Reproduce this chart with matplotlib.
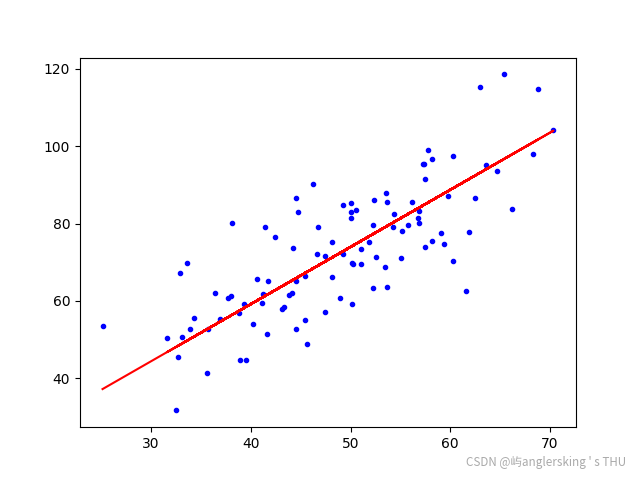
import matplotlib
matplotlib.use("Agg")
import matplotlib.pyplot as plt
import numpy as np

x = [32.502345, 53.426804, 61.530358, 47.475640, 59.813208, 55.142188, 52.211797, 39.299567, 48.105042, 52.550014,
     45.419730, 54.351635, 44.164049, 58.168471, 56.727208, 48.955889, 44.687196, 60.297327, 45.618644, 38.816818,
     66.189817, 65.416052, 47.481209, 41.575643, 51.845187, 59.370822, 57.310003, 63.615561, 46.737619, 50.556760,
     52.223996, 35.567830, 42.436477, 58.164540, 57.504448, 45.440531, 61.896223, 33.093832, 36.436010, 37.675655,
     44.555608, 43.318283, 50.073146, 43.870613, 62.997481, 32.669044, 40.166899, 53.575078, 33.864215, 64.707139,
     38.119824, 44.502538, 40.599538, 41.720676, 51.088635, 55.078096, 41.377727, 62.494697, 49.203888, 41.102685,
     41.182016, 50.186389, 52.378446, 50.135485, 33.644706, 39.557901, 56.130389, 57.362052, 60.269214, 35.678094,
     31.588117, 53.660932, 46.682229, 43.107820, 70.346076, 44.492856, 57.504533, 36.930077, 55.805733, 38.954769,
     56.901215, 56.868901, 34.333125, 59.049741, 57.788224, 54.282329, 51.088720, 50.282836, 44.211742, 38.005488,
     32.940480, 53.691640, 68.765734, 46.230966, 68.319361, 50.030174, 49.239765, 50.039576, 48.149859, 25.128485]
y = [31.707006, 68.777596, 62.562382, 71.546632, 87.230925, 78.211518, 79.641973, 59.171489, 75.331242, 71.300880,
     55.165677, 82.478847, 62.008923, 75.392870, 81.436192, 60.723602, 82.892504, 97.379897, 48.847153, 56.877213,
     83.878565, 118.591217, 57.251819, 51.391744, 75.380652, 74.765564, 95.455053, 95.229366, 79.052406, 83.432071,
     63.358790, 41.412885, 76.617341, 96.769566, 74.084130, 66.588144, 77.768482, 50.719589, 62.124571, 60.810247,
     52.682983, 58.569825, 82.905981, 61.424710, 115.244153, 45.570589, 54.084055, 87.994453, 52.725494, 93.576119,
     80.166275, 65.101712, 65.562301, 65.280887, 73.434642, 71.139728, 79.102830, 86.520538, 84.742698, 59.358850,
     61.684038, 69.847604, 86.098291, 59.108839, 69.899682, 44.862491, 85.498068, 95.536687, 70.251934, 52.721735,
     50.392670, 63.642399, 72.247251, 57.812513, 104.257102, 86.642020, 91.486778, 55.231661, 79.550437, 44.847124,
     80.207523, 83.142750, 55.723489, 77.634183, 99.051415, 79.120646, 69.588898, 69.510503, 73.687564, 61.366905,
     67.170656, 85.668203, 114.853871, 90.123572, 97.919821, 81.536991, 72.111832, 85.232007, 66.224958, 53.454394]

# fitted line parameters (gradient descent result)
b = 0.0889365
m = 1.4777441

xa = np.array(x)
ya = np.array(y)

fig = plt.figure(figsize=(6.4, 4.8), dpi=100)
plt.plot(xa, ya, 'b.')
plt.plot(xa, m * xa + b, 'r')

fig.text(0.978, 0.022, "CSDN @屿anglersking ' s THU", ha='right', va='bottom',
         fontsize=8.4, color='#aaaaaa', family=['Noto Sans CJK SC', 'DejaVu Sans'])

fig.savefig("out.png", dpi=100)
